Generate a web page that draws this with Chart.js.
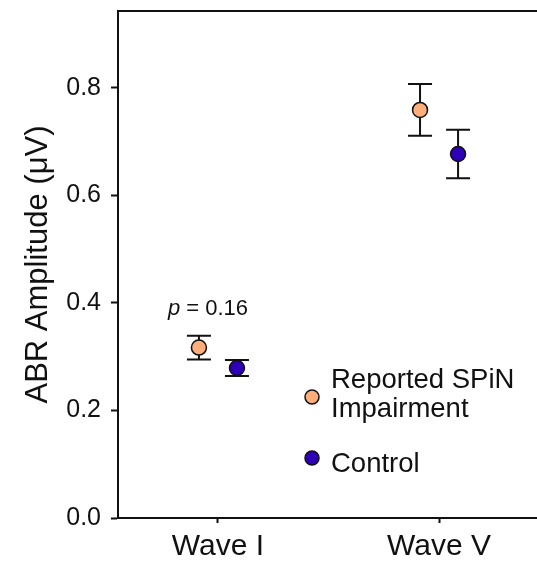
<!DOCTYPE html>
<html>
<head>
<meta charset="utf-8">
<script src="https://cdn.jsdelivr.net/npm/chart.js@4"></script>
<style>
  body { margin: 0; background: #fff; }
  #wrap { width: 537px; height: 561px; }
</style>
</head>
<body>
<div id="wrap"><canvas id="chart"></canvas></div>
<script>
// Данные
const waves = ['Wave I', 'Wave V'];
const groupLabels = [['Reported SPiN', 'Impairment'], ['Control']];
const spinMean = [0.317, 0.759];
const spinErr = [0.022, 0.048];
const controlMean = [0.279, 0.677];
const controlErr = [0.015, 0.045];
const yTicks = [0, 0.2, 0.4, 0.6, 0.8];
const pNote = '0.16';

const orange = '#fdae7a';
const blue = '#2e00b8';
const fontFamily = '"Liberation Sans", Arial, sans-serif';
const shift = 0.086;

function points(means, errs, off) {
    return means.map((m, i) => ({ x: i + 1 + off, y: m, err: errs[i] }));
}

// Планки погрешностей под маркерами
const errorBars = {
    id: 'errorBars',
    beforeDatasetsDraw(chart) {
        const ctx = chart.ctx;
        const xs = chart.scales.x, ys = chart.scales.y;
        ctx.save();
        ctx.strokeStyle = '#111';
        ctx.lineWidth = 2;
        chart.data.datasets.forEach(ds => {
            ds.data.forEach(p => {
                const x = xs.getPixelForValue(p.x);
                const top = ys.getPixelForValue(p.y + p.err);
                const bot = ys.getPixelForValue(p.y - p.err);
                ctx.beginPath();
                ctx.moveTo(x, top); ctx.lineTo(x, bot);
                ctx.moveTo(x - 12, top); ctx.lineTo(x + 12, top);
                ctx.moveTo(x - 12, bot); ctx.lineTo(x + 12, bot);
                ctx.stroke();
            });
        });
        ctx.restore();
    }
};

// Верхняя рамка, подпись p и легенда
const extras = {
    id: 'extras',
    afterDraw(chart) {
        const ctx = chart.ctx;
        const a = chart.chartArea;
        const xs = chart.scales.x;
        ctx.save();
        ctx.strokeStyle = '#111';
        ctx.lineWidth = 2;
        ctx.beginPath();
        ctx.moveTo(a.left, a.top);
        ctx.lineTo(a.right, a.top);
        ctx.stroke();

        // p = 0.16
        ctx.fillStyle = '#111';
        ctx.textBaseline = 'alphabetic';
        ctx.font = 'italic 22px ' + fontFamily;
        const pw = ctx.measureText('p').width;
        ctx.font = '22px ' + fontFamily;
        const rest = ' = ' + pNote;
        const rw = ctx.measureText(rest).width;
        const cx = xs.getPixelForValue(1) - 10;
        const startX = cx - (pw + rw) / 2;
        ctx.font = 'italic 22px ' + fontFamily;
        ctx.fillText('p', startX, 315);
        ctx.font = '22px ' + fontFamily;
        ctx.fillText(rest, startX + pw, 315);

        // легенда
        const colors = [orange, blue];
        const rowsY = [397, 458];
        ctx.font = '27.5px ' + fontFamily;
        groupLabels.forEach((lines, i) => {
            ctx.beginPath();
            ctx.arc(312, rowsY[i], 7, 0, Math.PI * 2);
            ctx.fillStyle = colors[i];
            ctx.fill();
            ctx.lineWidth = 1.5;
            ctx.stroke();
            ctx.fillStyle = '#111';
            const firstBase = lines.length > 1 ? rowsY[i] - 9 : rowsY[i] + 14;
            lines.forEach((t, k) => ctx.fillText(t, 331, firstBase + k * 29));
        });
        ctx.restore();
    }
};

function noPad(s) {
    s.paddingTop = 0; s.paddingBottom = 0; s.paddingLeft = 0; s.paddingRight = 0;
}

new Chart(document.getElementById('chart'), {
    type: 'scatter',
    data: {
        datasets: [
            { label: groupLabels[0].join(' '), data: points(spinMean, spinErr, -shift),
              backgroundColor: orange, borderColor: '#111', borderWidth: 1.5, pointRadius: 7.5 },
            { label: groupLabels[1].join(' '), data: points(controlMean, controlErr, shift),
              backgroundColor: blue, borderColor: '#111', borderWidth: 1.5, pointRadius: 7.5 }
        ]
    },
    options: {
        responsive: true,
        maintainAspectRatio: false,
        animation: false,
        layout: { autoPadding: false, padding: { top: 11, left: 0, right: 0, bottom: 0 } },
        plugins: { legend: { display: false }, tooltip: { enabled: false } },
        scales: {
            x: {
                type: 'linear', min: 0.548, max: 2.443,
                afterBuildTicks: s => { s.ticks = waves.map((w, i) => ({ value: i + 1 })); },
                afterFit: s => { s.height = 43; noPad(s); },
                ticks: { callback: v => waves[v - 1], color: '#111', padding: 6,
                         font: { family: fontFamily, size: 30 }, maxRotation: 0 },
                grid: { drawOnChartArea: false, tickLength: 5, tickWidth: 2, tickColor: '#111' },
                border: { color: '#111', width: 2 }
            },
            y: {
                min: 0, max: 0.943,
                afterBuildTicks: s => { s.ticks = yTicks.map(v => ({ value: v })); },
                afterFit: s => { s.width = 118; noPad(s); },
                ticks: { callback: v => v.toFixed(1), color: '#111', padding: 10,
                         font: { family: fontFamily, size: 25 } },
                grid: { drawOnChartArea: false, tickLength: 7, tickWidth: 2, tickColor: '#111' },
                border: { color: '#111', width: 2 },
                title: { display: true, text: 'ABR Amplitude (\u03bcV)', color: '#111',
                         font: { family: fontFamily, size: 31 }, padding: { top: 20, bottom: 0 } }
            }
        }
    },
    plugins: [errorBars, extras]
});
</script>
</body>
</html>
